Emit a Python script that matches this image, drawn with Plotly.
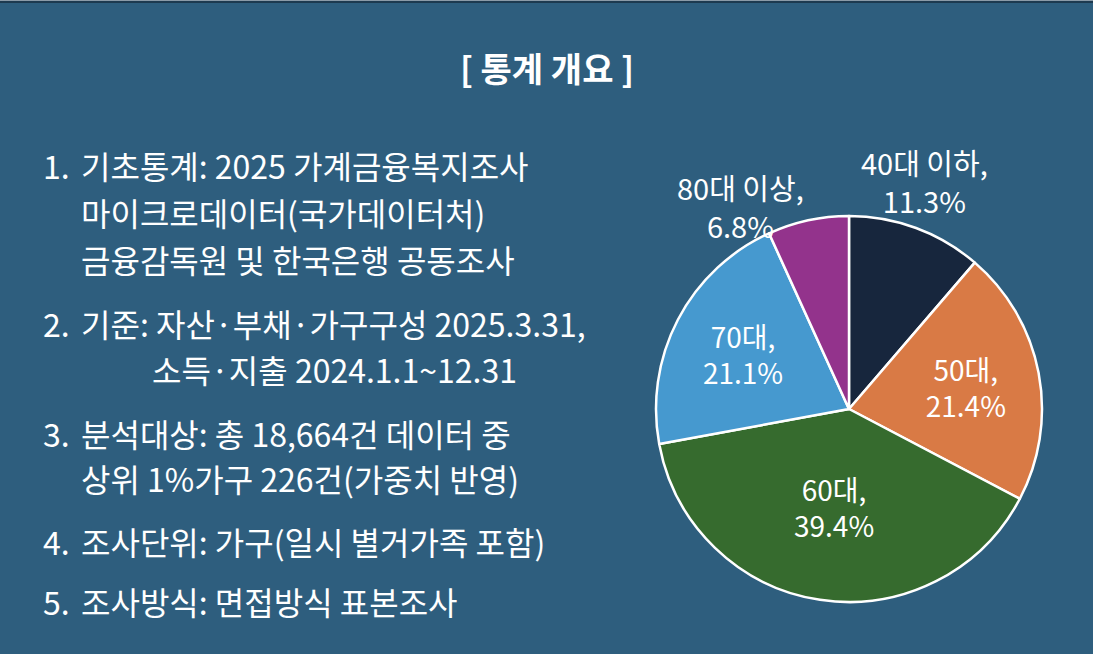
import math
import plotly.graph_objects as go

W, H = 1093, 654
BG = "#2e5e7e"
FONT = "Noto Sans CJK KR, Noto Sans, sans-serif"

age_groups = ["40대 이하", "50대", "60대", "70대", "80대 이상"]
shares = [11.3, 21.4, 39.4, 21.1, 6.8]
slice_colors = ["#17263d", "#d97a45", "#366b2e", "#4699cf", "#93338c"]
outside_groups = ["40대 이하", "80대 이상"]

title_text = "[ 통계 개요 ]"
item_numbers = ["1.", "2.", "3.", "4.", "5."]
item_lines = [
    ["기초통계: 2025 가계금융복지조사", "마이크로데이터(국가데이터처)", "금융감독원 및 한국은행 공동조사"],
    ["기준: 자산·부채·가구구성 2025.3.31,", "소득·지출 2024.1.1~12.31"],
    ["분석대상: 총 18,664건 데이터 중", "상위 1%가구 226건(가중치 반영)"],
    ["조사단위: 가구(일시 별거가족 포함)"],
    ["조사방식: 면접방식 표본조사"],
]

# 레이아웃 (px, 위에서부터)
line_y = [[165, 212, 259], [323, 369], [433, 478], [541], [601]]
num_x, text_x = 41, 79
cont_x = {1: 150}  # 2번 항목 둘째 줄 들여쓰기
TXT_SIZE = 32
PIE_X0, PIE_X1, PIE_Y0, PIE_Y1 = 655, 1043, 216, 602  # 파이 영역 (px)
# 바깥 라벨 앵커: (xanchor, yanchor, dx, dy)
outside_anchor = {"40대 이하": ("center", "bottom", 8, -5),
                  "80대 이상": ("right", "middle", -2, -14)}

slice_text = [
    "" if g in outside_groups else f"{g},<br>{v:.1f}%"
    for g, v in zip(age_groups, shares)
]

fig = go.Figure()
fig.add_trace(go.Pie(
    labels=age_groups, values=shares, sort=False, direction="clockwise",
    rotation=0,
    marker=dict(colors=slice_colors, line=dict(color="white", width=2.5)),
    text=slice_text, texttemplate="%{text}", textposition="inside",
    insidetextorientation="horizontal",
    insidetextfont=dict(family=FONT, size=28, color="white"),
    domain=dict(x=[PIE_X0 / W, PIE_X1 / W], y=[1 - PIE_Y1 / H, 1 - PIE_Y0 / H]),
    showlegend=False, hoverinfo="label+percent",
))


def px(x, y):
    return x / W, 1 - y / H


annotations = []
tx, ty = px(W / 2, 68)
annotations.append(dict(text=f"<b>{title_text}</b>", x=tx, y=ty, xref="paper", yref="paper",
                        showarrow=False, xanchor="center", yanchor="middle",
                        font=dict(family=FONT, size=34, color="white")))
for i, (num, lines) in enumerate(zip(item_numbers, item_lines)):
    nx, ny = px(num_x, line_y[i][0])
    annotations.append(dict(text=num, x=nx, y=ny, xref="paper", yref="paper",
                            showarrow=False, xanchor="left", yanchor="middle",
                            font=dict(family=FONT, size=TXT_SIZE, color="white")))
    for j, line in enumerate(lines):
        lx = text_x if j == 0 else cont_x.get(i, text_x)
        ax, ay = px(lx, line_y[i][j])
        annotations.append(dict(text=line, x=ax, y=ay, xref="paper", yref="paper",
                                showarrow=False, xanchor="left", yanchor="middle",
                                font=dict(family=FONT, size=TXT_SIZE, color="white")))

# 작은 조각 라벨: 조각 바깥 중간점 기준
cx, cy = (PIE_X0 + PIE_X1) / 2, (PIE_Y0 + PIE_Y1) / 2
radius = min(PIE_X1 - PIE_X0, PIE_Y1 - PIE_Y0) / 2
total = sum(shares)
cum = 0.0
for g, v in zip(age_groups, shares):
    mid = (cum + v / 2) / total * 2 * math.pi
    cum += v
    if g not in outside_groups:
        continue
    xa, ya, dx, dy = outside_anchor[g]
    ex = cx + radius * math.sin(mid) + dx
    ey = cy - radius * math.cos(mid) + dy
    ax, ay = px(ex, ey)
    annotations.append(dict(text=f"{g},<br>{v:.1f}%", x=ax, y=ay, xref="paper", yref="paper",
                            showarrow=False, xanchor=xa, yanchor=ya, align="center",
                            font=dict(family=FONT, size=29, color="white")))

fig.update_layout(
    width=W, height=H,
    margin=dict(l=0, r=0, t=0, b=0),
    paper_bgcolor=BG, plot_bgcolor=BG,
    uniformtext=dict(minsize=27, mode="show"),
    annotations=annotations,
    shapes=[
        dict(type="rect", xref="paper", yref="paper", x0=0, x1=1, y0=1 - 3 / H, y1=1,
             fillcolor="#1d3a50", line=dict(width=0), layer="above"),
        dict(type="rect", xref="paper", yref="paper", x0=0, x1=1, y0=1 - 1 / H, y1=1,
             fillcolor="#8b9ba8", line=dict(width=0), layer="above"),
    ],
)

fig.write_html(
    "out.html",
    config={"displayModeBar": False},
    post_script="document.body.style.margin='0';document.body.style.overflow='hidden';"
                "document.body.style.background='%s';" % BG,
)
